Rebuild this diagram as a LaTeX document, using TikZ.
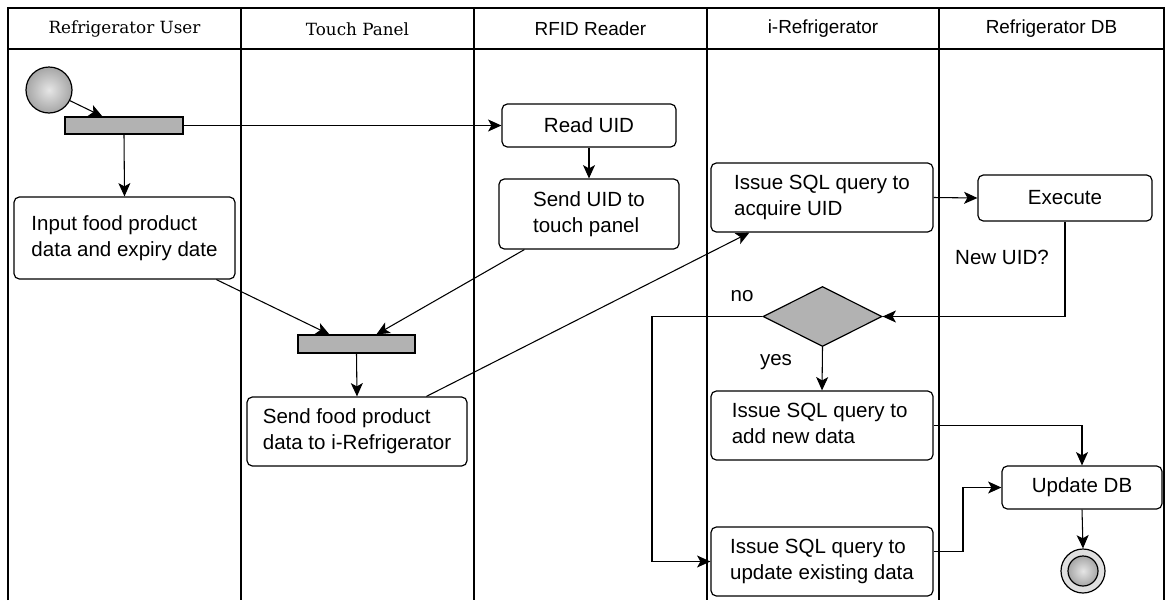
\documentclass[tikz,border=0pt]{standalone}
\usepackage{fontspec}
\newfontfamily\sansf{Liberation Sans}
\newfontfamily\seriff{DejaVu Serif}
\usetikzlibrary{arrows.meta,shapes.geometric,calc}
\def\pxu{0.75pt}
\tikzset{
  lane/.style={draw=black, line width=0.8pt},
  hdserif/.style={font=\seriff\fontsize{12.6}{15}\selectfont, anchor=center},
  hdsans/.style={font=\sansf\fontsize{14.2}{17}\selectfont, anchor=center},
  act/.style={draw=black, line width=0.9pt, rounded corners=4pt, fill=white, inner sep=0pt,
    font=\sansf\fontsize{15.4}{19.5}\selectfont},
  bar/.style={draw=black, line width=0.9pt, fill=gray!60, inner sep=0pt},
  flow/.style={line width=0.8pt, -{Stealth[length=10pt,width=9pt,inset=2.5pt]}},
  lbl/.style={font=\sansf\fontsize{15.4}{19.5}\selectfont, inner sep=0pt}
}
\begin{document}
\begin{tikzpicture}[x=0.75pt,y=-0.75pt]
\useasboundingbox (0,0) rectangle (1166,600);
% swimlanes
\draw[lane] (8,600) -- (8,8) -- (1164,8) -- (1164,600);
\draw[lane] (8,49) -- (1164,49);
\foreach \xx in {241,474,707,939} \draw[lane] (\xx,8) -- (\xx,600);
\node[hdserif] (h1) at (124.5,29) {Refrigerator User};
\node[hdserif] (h2) at (357.5,29) {Touch Panel};
\node[hdsans] (h3) at (590.5,29) {RFID Reader};
\node[hdsans] (h4) at (823,29) {i-Refrigerator};
\node[hdsans] (h5) at (1051.5,29) {Refrigerator DB};
% nodes
\node[circle, draw=black, line width=0.9pt, minimum size=46*\pxu, inner sep=0pt,
  shading=radial, inner color=gray!20, outer color=gray!70] (start) at (49,90) {};
\node[bar, minimum width=118*\pxu, minimum height=17*\pxu] (bar1) at (124,125.5) {};
\node[act, minimum width=174*\pxu, minimum height=43*\pxu, align=center] (readuid) at (589,125.5) {Read UID};
\node[act, minimum width=180*\pxu, minimum height=70*\pxu, align=left] (senduid) at (589,214) {Send UID to\\touch panel};
\node[act, minimum width=221*\pxu, minimum height=82*\pxu, align=left] (inp) at (124.5,238) {Input food product\\data and expiry date};
\node[bar, minimum width=117*\pxu, minimum height=18*\pxu] (bar2) at (356.5,344) {};
\node[act, minimum width=220*\pxu, minimum height=69*\pxu, align=left] (food) at (357,431.5) {Send food product\\data to i-Refrigerator};
\node[act, minimum width=222*\pxu, minimum height=69*\pxu, align=left] (acq) at (822,197.5) {Issue SQL query to\\acquire UID\phantom{g}};
\node[act, minimum width=174*\pxu, minimum height=46*\pxu, align=center] (exec) at (1065,198) {Execute};
\node[diamond, draw=black, line width=0.9pt, fill=gray!60, inner sep=0pt, aspect=2,
  minimum width=119*\pxu, minimum height=60*\pxu] (dia) at (822.5,316.5) {};
\node[act, minimum width=222*\pxu, minimum height=69*\pxu, align=left] (add) at (822,425.5) {Issue SQL query to\\add new data\phantom{ggggg}};
\node[act, minimum width=222*\pxu, minimum height=69*\pxu, align=left] (upd) at (822,561.5) {Issue SQL query to\\update existing data};
\node[act, minimum width=160*\pxu, minimum height=43*\pxu, align=center] (updb) at (1082,487.5) {Update DB};
\node[circle, draw=black, line width=0.9pt, minimum size=44*\pxu, inner sep=0pt, fill=gray!25] (end) at (1083,571) {};
\node[circle, draw=black, line width=0.9pt, minimum size=30*\pxu, inner sep=0pt,
  shading=radial, inner color=gray!20, outer color=gray!70] (endin) at (end.center) {};
% labels
\node[lbl] (newuid) at (1002,257) {New UID?};
\node[lbl] (nolbl) at (742,296) {no};
\node[lbl] (yeslbl) at (776,362) {yes};
% connectors
\draw[flow] (start.-27) -- ($(bar1.north west)+(38,0)$);
\draw[flow] (bar1.east) -- (readuid.west);
\draw[flow] (bar1.south) -- (inp.north);
\draw[flow] (readuid.south) -- (senduid.north);
\draw[flow] ($(inp.south west)+(203,0)$) -- ($(bar2.north west)+(32,0)$);
\draw[flow] ($(senduid.south west)+(26,0)$) -- ($(bar2.north west)+(79,0)$);
\draw[flow] (bar2.south) -- (food.north);
\draw[flow] ($(food.north west)+(180,0)$) -- ($(acq.south west)+(39,0)$);
\draw[flow] (acq.east) -- (exec.west);
\draw[flow] (exec.south) |- (dia.east);
\coordinate (nob) at (652,316.5);
\draw[flow] (dia.west) -- (nob) |- (upd.west);
\draw[flow] (dia.south) -- (add.north);
\draw[flow] (add.east) -| (updb.north);
\coordinate (ux) at (963,0);
\coordinate (ue) at ($(upd.east)+(0,-10)$);
\draw[flow] (ue) -- (ue -| ux) |- (updb.west);
\draw[flow] (updb.south) -- (end.north);
\end{tikzpicture}
\end{document}
